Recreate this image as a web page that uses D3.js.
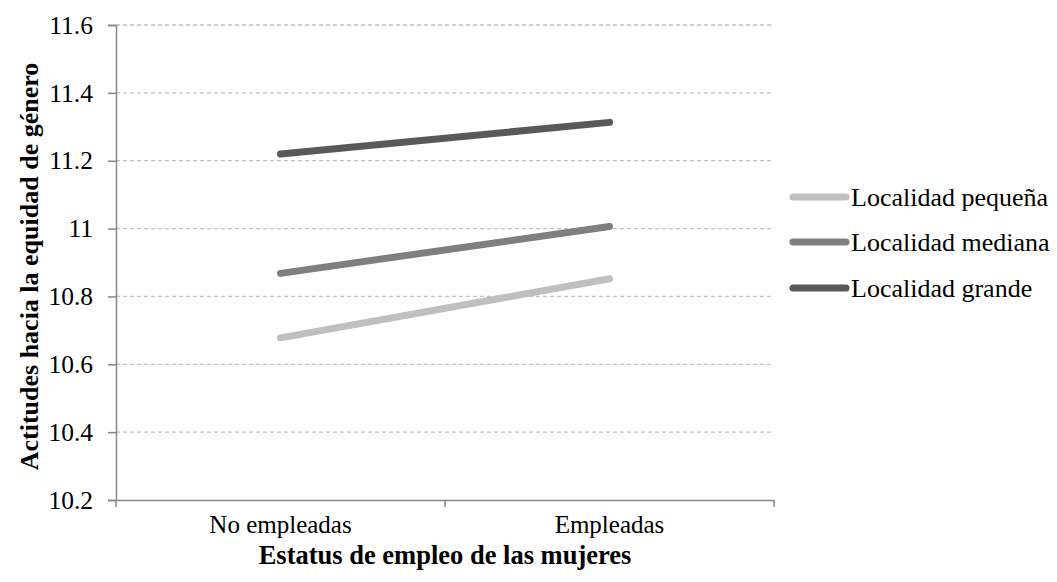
<!DOCTYPE html>
<html>
<head>
<meta charset="utf-8">
<script src="https://cdn.jsdelivr.net/npm/d3@7"></script>
<style>
  html, body { margin: 0; padding: 0; background: #fff; }
  svg { display: block; }
  text { font-family: "Liberation Serif", "Times New Roman", serif; fill: #000; }
</style>
</head>
<body>
<svg id="chart" width="1057" height="582"></svg>
<script>
// Employment status categories on the x axis
const categories = ["No empleadas", "Empleadas"];

// Attitude scores by locality size
const seriesNames = ["Localidad pequeña", "Localidad mediana", "Localidad grande"];
const pequena = [10.678, 10.852];
const mediana = [10.868, 11.006];
const grande = [11.220, 11.313];

const yTicks = [10.2, 10.4, 10.6, 10.8, 11, 11.2, 11.4, 11.6];
const colors = ["#bfbfbf", "#7f7f7f", "#595959"];

const series = [pequena, mediana, grande].map((values, i) => ({
  name: seriesNames[i], values, color: colors[i]
}));

const svg = d3.select("#chart");
const plotLeft = 116, plotRight = 774, plotTop = 25, plotBottom = 500;
const serif = '"Liberation Serif", "Times New Roman", serif';

const x = d3.scaleBand().domain(categories).range([plotLeft, plotRight]).padding(0);
const y = d3.scaleLinear().domain([10.2, 11.6]).range([plotBottom, plotTop]);

// Dashed horizontal gridlines
svg.append("g")
  .selectAll("line")
  .data(yTicks.filter(t => t !== 10.2))
  .join("line")
  .attr("x1", plotLeft).attr("x2", plotRight)
  .attr("y1", d => y(d)).attr("y2", d => y(d))
  .attr("stroke", "#c0c0c0")
  .attr("stroke-width", 1.3)
  .attr("stroke-dasharray", "4,3");

// Y axis
const yAxis = svg.append("g")
  .attr("transform", `translate(${plotLeft},0)`)
  .call(d3.axisLeft(y).tickValues(yTicks).tickFormat(d => String(+d.toFixed(1))).tickSize(8).tickPadding(15));
yAxis.attr("font-family", null);
yAxis.select(".domain").attr("stroke", "#878787").attr("stroke-width", 1.5);
yAxis.selectAll(".tick line").attr("stroke", "#878787").attr("stroke-width", 1.5);
yAxis.selectAll(".tick text")
  .style("font-family", serif)
  .style("font-size", "25.5px")
  .attr("fill", "#000");

// X axis
const xAxis = svg.append("g")
  .attr("transform", `translate(0,${plotBottom})`)
  .call(d3.axisBottom(x).tickSize(0).tickPadding(15));
xAxis.attr("font-family", null);
xAxis.select(".domain").attr("stroke", "#878787").attr("stroke-width", 1.5);
xAxis.selectAll(".tick text")
  .style("font-family", serif)
  .style("font-size", "25px")
  .attr("fill", "#000");

// Tick marks at category boundaries
const boundaries = [plotLeft, ...categories.map(c => x(c) + x.bandwidth())];
svg.append("g")
  .selectAll("line")
  .data(boundaries)
  .join("line")
  .attr("x1", d => d).attr("x2", d => d)
  .attr("y1", plotBottom).attr("y2", plotBottom + 7)
  .attr("stroke", "#878787").attr("stroke-width", 1.5);

// Series lines
const line = d3.line()
  .x((d, i) => x(categories[i]) + x.bandwidth() / 2)
  .y(d => y(d));

svg.append("g")
  .selectAll("path")
  .data(series)
  .join("path")
  .attr("d", d => line(d.values))
  .attr("fill", "none")
  .attr("stroke", d => d.color)
  .attr("stroke-width", 7)
  .attr("stroke-linecap", "round");

// Legend
const legend = svg.append("g");
const legendY = [197, 242, 288];
series.forEach((s, i) => {
  legend.append("line")
    .attr("x1", 793).attr("x2", 846)
    .attr("y1", legendY[i]).attr("y2", legendY[i])
    .attr("stroke", s.color).attr("stroke-width", 7)
    .attr("stroke-linecap", "round");
  legend.append("text")
    .attr("x", 851).attr("y", legendY[i])
    .attr("dy", "0.33em")
    .style("font-family", serif)
    .style("font-size", "26px")
    .text(s.name);
});

// Axis titles
svg.append("text")
  .attr("x", (plotLeft + plotRight) / 2).attr("y", 564)
  .attr("text-anchor", "middle")
  .style("font-family", serif)
  .style("font-size", "26.5px")
  .style("font-weight", "bold")
  .text("Estatus de empleo de las mujeres");

svg.append("text")
  .attr("transform", `translate(38,${(plotTop + plotBottom) / 2 + 4}) rotate(-90)`)
  .attr("text-anchor", "middle")
  .style("font-family", serif)
  .style("font-size", "26px")
  .style("font-weight", "bold")
  .text("Actitudes hacia la equidad de género");
</script>
</body>
</html>
